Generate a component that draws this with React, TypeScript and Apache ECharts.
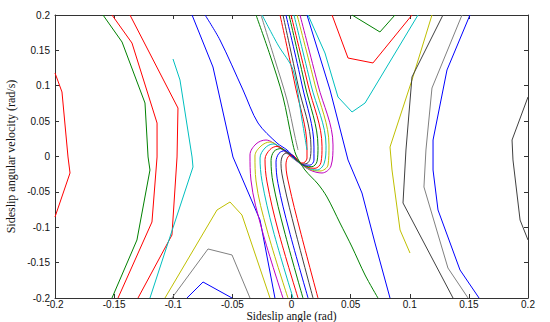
import React, { useEffect, useRef } from "react";
import * as echarts from "echarts";

type Pt = [number, number];

const AXIS_MIN = -0.2;
const AXIS_MAX = 0.2;
const AXIS_STEP = 0.05;
const X_NAME = "Sideslip angle (rad)";
const Y_NAME = "Sideslip angular velocity (rad/s)";

const C = {
  b: "#0000ff",
  g: "#008000",
  r: "#ff0000",
  c: "#00bfbf",
  m: "#bf00bf",
  y: "#bfbf00",
  k: "#404040",
  lk: "#808080",
};

// ---- left side trajectories ----
const farLeftRed: Pt[] = [[-0.2, 0.118], [-0.1941, 0.0912], [-0.189, -0.0007], [-0.1873, -0.0233], [-0.2, -0.0855]];
const leftGreen: Pt[] = [[-0.1594, 0.2], [-0.1433, 0.1618], [-0.1239, 0.0756], [-0.1213, -0.0007], [-0.1197, -0.0191], [-0.1307, -0.118], [-0.1518, -0.2]];
const leftRed2: Pt[] = [[-0.1518, 0.2], [-0.1349, 0.1604], [-0.1137, 0.0473], [-0.1137, -0.0007], [-0.118, -0.0926], [-0.1467, -0.2]];
const leftRed3: Pt[] = [[-0.1366, 0.2], [-0.096, 0.0685], [-0.0968, -0.0007], [-0.1011, -0.111], [-0.1298, -0.2]];
const leftCyan: Pt[] = [[-0.1002, 0.1378], [-0.0943, 0.1081], [-0.0841, -0.0007], [-0.0833, -0.0148], [-0.1028, -0.1138], [-0.1197, -0.2]];
const leftBlue: Pt[] = [[-0.0841, 0.2], [-0.0664, 0.1265], [-0.0495, -0.0007], [-0.0266, -0.0898], [-0.014, -0.2]];
const yellowV: Pt[] = [[-0.107, -0.2], [-0.063, -0.0756], [-0.052, -0.0643], [-0.0419, -0.0827], [-0.0182, -0.2]];
const grayV: Pt[] = [[-0.1011, -0.2], [-0.0706, -0.1307], [-0.0503, -0.1392], [-0.0351, -0.2]];
const blueV: Pt[] = [[-0.0884, -0.2], [-0.0748, -0.1774], [-0.0503, -0.2]];

// ---- separatrices ----
const sepBlue: Pt[] = [[-0.0731, 0.2], [-0.0605, 0.1647], [-0.041, 0.094], [-0.0283, 0.0473], [-0.0123, 0.0191], [-0.0038, 0.0092], [0.003, -0.0021]];
const sepGreen: Pt[] = [[-0.03, 0.2], [-0.0182, 0.1435], [-0.0072, 0.0841], [0.0004, 0.0233], [0.0038, 0.0021], [0.0114, -0.0191], [0.0224, -0.0389], [0.03, -0.0572], [0.041, -0.094], [0.0512, -0.1279], [0.0622, -0.1675], [0.0731, -0.2]];
const bundleCyan: Pt[] = [[-0.0249, 0.2], [-0.0114, 0.1576], [0.0013, 0.1223], [0.0089, 0.0516], [0.0131, 0.0092]];
const bundleGray: Pt[] = [[-0.0258, 0.2], [-0.014, 0.1364], [-0.0038, 0.0799], [0.003, 0.0276], [0.0055, 0.0092]];

// ---- nested S-shaped trajectories (outer to inner) ----
const s0: Pt[] = [[-0.0072, -0.2], [-0.0249, -0.1039], [-0.0343, -0.0332], [-0.0351, 0.0021], [-0.03, 0.0177], [-0.0216, 0.0233], [-0.0097, 0.012], [0.003, -0.0049], [0.0156, -0.0191], [0.0258, -0.0233], [0.0334, -0.0134], [0.0351, 0.0163], [0.0224, 0.1011], [0.0072, 0.2]];
const s1: Pt[] = [[-0.003, -0.2], [-0.0207, -0.1039], [-0.03, -0.0346], [-0.0309, 0.0007], [-0.0258, 0.0148], [-0.0182, 0.0205], [-0.008, 0.0106], [0.0038, -0.0049], [0.0148, -0.0177], [0.0241, -0.0205], [0.0309, -0.012], [0.0317, 0.0163], [0.0199, 0.1011], [0.0047, 0.2]];
const s2: Pt[] = [[0.0013, -0.2], [-0.0156, -0.1039], [-0.0249, -0.0352], [-0.0266, -0.0021], [-0.0224, 0.012], [-0.0156, 0.0177], [-0.0055, 0.0078], [0.0038, -0.0054], [0.014, -0.0163], [0.0216, -0.0191], [0.0275, -0.0102], [0.0292, 0.015], [0.0165, 0.1011], [0.0021, 0.2]];
const s3: Pt[] = [[0.0055, -0.2], [-0.0114, -0.1039], [-0.0207, -0.036], [-0.0224, -0.004], [-0.0182, 0.0098], [-0.0123, 0.0143], [-0.0038, 0.0059], [0.0047, -0.0055], [0.0131, -0.0148], [0.0199, -0.0167], [0.0249, -0.0086], [0.0258, 0.0144], [0.014, 0.1011], [-0.0004, 0.2]];
const s4: Pt[] = [[0.0097, -0.2], [-0.0063, -0.1039], [-0.0156, -0.0373], [-0.0173, -0.0059], [-0.0148, 0.0072], [-0.0089, 0.0112], [-0.0021, 0.004], [0.0047, -0.0058], [0.0114, -0.0134], [0.0173, -0.0144], [0.0216, -0.0069], [0.0224, 0.0139], [0.0114, 0.1011], [-0.0021, 0.2]];
const s5: Pt[] = [[0.014, -0.2], [-0.0021, -0.1039], [-0.0114, -0.0383], [-0.0131, -0.0079], [-0.0106, 0.0045], [-0.0055, 0.0082], [-0.0004, 0.002], [0.0055, -0.0059], [0.0106, -0.012], [0.0156, -0.0122], [0.019, -0.0052], [0.019, 0.0133], [0.0089, 0.1011], [-0.0047, 0.2]];
const s6: Pt[] = [[0.0182, -0.2], [0.003, -0.1039], [-0.0063, -0.0393], [-0.0089, -0.01], [-0.0072, 0.002], [-0.003, 0.0051], [0.0021, -0.0001], [0.0055, -0.0062], [0.0097, -0.0106], [0.0131, -0.0098], [0.0156, -0.0037], [0.0165, 0.0126], [0.0055, 0.1011], [-0.0072, 0.2]];
const s7: Pt[] = [[0.0224, -0.2], [0.0072, -0.1039], [-0.0021, -0.0403], [-0.0047, -0.012], [-0.003, -0.0007], [0.0004, 0.0021], [0.0038, -0.0021], [0.0063, -0.0064], [0.0089, -0.0092], [0.0114, -0.0078], [0.0131, -0.0021], [0.0131, 0.012], [0.003, 0.1011], [-0.0097, 0.2]];
const sCurves: Pt[][] = [s0, s1, s2, s3, s4, s5, s6, s7];
const sColors: string[] = [C.m, C.y, C.c, C.r, C.g, C.b, C.k, C.r];

// ---- right side trajectories ----
const rightBlueStraight: Pt[] = [[0.0131, 0.2], [0.0326, 0.094], [0.0478, -0.0049], [0.0596, -0.0516], [0.0706, -0.1223], [0.0833, -0.2]];
const cyanV: Pt[] = [[0.014, 0.2], [0.0283, 0.1463], [0.0393, 0.0841], [0.0512, 0.0629], [0.0622, 0.0756], [0.107, 0.2]];
const redV: Pt[] = [[0.0343, 0.2], [0.0478, 0.1392], [0.0689, 0.1322], [0.1019, 0.2]];
const greenV: Pt[] = [[0.0512, 0.2], [0.0748, 0.176], [0.0875, 0.2]];
const rightYellow: Pt[] = [[0.1188, 0.2], [0.1019, 0.1081], [0.0833, 0.0134], [0.085, -0.0191], [0.0918, -0.1039], [0.1002, -0.1364]];
const rightDarkGray: Pt[] = [[0.1281, 0.2], [0.1019, 0.1124], [0.0968, 0.0092], [0.0943, -0.0657], [0.1366, -0.2]];
const rightLightGray: Pt[] = [[0.1442, 0.2], [0.1188, 0.0968], [0.1137, 0.0092], [0.112, -0.0431], [0.1323, -0.1576], [0.1493, -0.2]];
const rightBlue: Pt[] = [[0.1509, 0.2], [0.1315, 0.1223], [0.1197, 0.0233], [0.1197, -0.0191], [0.1239, -0.0756], [0.1425, -0.1604], [0.1586, -0.2]];
const farRightGray: Pt[] = [[0.2, 0.0841], [0.1865, 0.0233], [0.1873, -0.0049], [0.1933, -0.0898], [0.2, -0.118]];

function line(data: Pt[], color: string, smooth: number | boolean = false) {
  return {
    type: "line",
    data,
    smooth,
    showSymbol: false,
    symbol: "none",
    clip: true,
    silent: true,
    lineStyle: { color, width: 1 },
    z: 2,
  };
}

export default function App() {
  const ref = useRef<HTMLDivElement>(null);
  useEffect(() => {
    if (!ref.current) return;
    const chart = echarts.init(ref.current, undefined, { renderer: "svg" });
    const labelFont = { fontFamily: "'Liberation Sans', Arial, sans-serif", fontSize: 10, lineHeight: 9, color: "#111" };
    const axisLine = { show: true, onZero: false, lineStyle: { color: "#333", width: 1 } };
    const tick = { show: true, inside: true, length: 4, lineStyle: { color: "#333" } };
    const common = { type: "value", min: AXIS_MIN, max: AXIS_MAX, interval: AXIS_STEP, splitLine: { show: false } };
    const nameStyle = { fontFamily: "'Liberation Serif', 'Times New Roman', serif", fontSize: 11.5, lineHeight: 10, color: "#111" };
    const series: any[] = [
      line(farLeftRed, C.r),
      line(leftGreen, C.g),
      line(leftRed2, C.r),
      line(leftRed3, C.r),
      line(leftCyan, C.c),
      line(leftBlue, C.b),
      line(yellowV, C.y),
      line(grayV, C.lk),
      line(blueV, C.b),
      line(rightBlueStraight, C.b),
      line(cyanV, C.c),
      line(redV, C.r),
      line(greenV, C.g),
      line(rightYellow, C.y),
      line(rightDarkGray, C.k),
      line(rightLightGray, C.lk),
      line(rightBlue, C.b),
      line(farRightGray, C.k),
      ...sCurves.map((s, i) => line(s, sColors[i], 0.35)),
      line(bundleCyan, C.c, 0.3),
      line(bundleGray, C.lk, 0.3),
      line(sepBlue, C.b, 0.3),
      line(sepGreen, C.g, 0.3),
    ];
    chart.setOption({
      animation: false,
      backgroundColor: "#ffffff",
      grid: { left: 55, right: 22, top: 15, bottom: 24, containLabel: false, outerBoundsMode: "none" },
      xAxis: [
        {
          ...common,
          position: "bottom",
          name: X_NAME,
          nameLocation: "middle",
          nameGap: 13,
          nameMoveOverlap: false,
          nameTextStyle: nameStyle,
          axisLine,
          axisTick: tick,
          axisLabel: { ...labelFont, margin: 2 },
        },
        {
          ...common,
          position: "top",
          axisLine,
          axisTick: tick,
          axisLabel: { show: false },
        },
      ],
      yAxis: [
        {
          ...common,
          position: "left",
          name: Y_NAME,
          nameLocation: "middle",
          nameGap: 39,
          nameMoveOverlap: false,
          nameTextStyle: { ...nameStyle, fontSize: 12, lineHeight: 11 },
          axisLine,
          axisTick: tick,
          axisLabel: { ...labelFont, margin: 5 },
        },
        {
          ...common,
          position: "right",
          axisLine,
          axisTick: tick,
          axisLabel: { show: false },
        },
      ],
      series,
    });
    return () => chart.dispose();
  }, []);
  return <div ref={ref} style={{ position: "absolute", left: 0, top: 0, width: 550, height: 322 }} />;
}
